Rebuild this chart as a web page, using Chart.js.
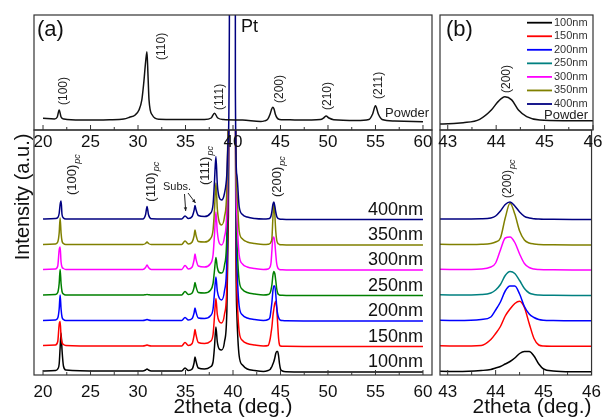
<!DOCTYPE html>
<html><head><meta charset="utf-8">
<script src="https://cdn.jsdelivr.net/npm/chart.js@4.4.0/dist/chart.umd.min.js"></script>
<style>
html,body{margin:0;padding:0;background:#fff;}
#wrap{position:relative;width:608px;height:420px;overflow:hidden;background:#fff;}
canvas{position:absolute;left:0;top:0;}
</style></head><body>
<div id="wrap">
<canvas id="cAb" width="608" height="420"></canvas>
<canvas id="cBb" width="608" height="420"></canvas>
<canvas id="cAt" width="608" height="420"></canvas>
<canvas id="cBt" width="608" height="420"></canvas>
</div>
<script>
// ---------------- DATA ----------------
const seriesLabels = ['100nm','150nm','200nm','250nm','300nm','350nm','400nm'];
// vertical stacking offsets of the film patterns (a.u.)
const offsets = [3, 28.5, 54, 79.5, 105, 130, 155.5];

// common 2theta grid of the film patterns (deg.)
const theta = [20, 21.3, 21.55, 21.7, 21.8, 21.9, 22.0, 22.15, 22.4, 26,
 30.5, 30.8, 30.95, 31.1, 31.4, 34.6, 34.95, 35.3, 35.7, 35.9,
 36.0, 36.1, 36.35, 37.0, 37.6, 37.9, 38.05, 38.2, 38.35, 38.55,
 38.8, 39.1, 39.35, 39.5, 39.62, 39.7, 40.15, 40.25, 40.4, 40.65,
 41.0, 41.5, 42.3, 43.2, 43.7, 43.9, 44.0, 44.1, 44.2, 44.3,
 44.4, 44.5, 44.6, 44.7, 44.8, 44.9, 45.0, 45.2, 45.6, 50,
 60];

const i100 = [1, 1.5, 3, 8, 24, 39, 22, 6, 2, 1,
 1, 2, 3, 2, 1, 1, 4, 1.5, 3, 9,
 15, 11, 4, 3, 5, 10, 25, 45, 30, 23,
 22, 30, 60, 150, 400, 3000, 3000, 300, 60, 16,
 7, 3, 1.5, 0.5, 1.5, 2.5, 4, 5.5, 8, 10.5,
 14, 18.5, 20.5, 20.5, 16, 8, 3, 1, 0.3, 0,
 0];
const i150 = [1, 1.5, 5, 22, 25, 10, 4, 2, 1, 0.5,
 0.5, 1, 1.5, 1, 0.5, 0.5, 4, 1, 3, 11,
 17, 12, 4, 3, 5, 12, 30, 48, 32, 25,
 23.5, 32, 60, 150, 400, 3000, 3000, 300, 60, 15,
 6, 3, 1.5, 0.5, 1, 7, 13, 20, 30.5, 37.5,
 43, 45.3, 39, 23, 8, 1.5, 0.5, 0.3, 0.2, 0,
 0];
const i200 = [0.5, 1, 3, 12, 26, 12, 4, 1.5, 0.5, 0.5,
 0.5, 1, 1.5, 1, 0.5, 0.5, 3.5, 1, 2.5, 8,
 13, 9, 3, 2.5, 5, 12, 28, 44, 30, 23,
 21, 30, 60, 150, 400, 3000, 3000, 300, 60, 15,
 6, 3, 1.5, 0.5, 1.5, 4, 11, 19, 30, 35,
 35, 27, 14.5, 7, 3.5, 1.5, 0.8, 0.5, 0.2, 0,
 0];
const i250 = [0.5, 1, 3, 12, 26, 12, 4, 1.5, 0.5, 0.5,
 0.5, 0.8, 1, 0.8, 0.5, 0.5, 4, 1, 2.5, 8,
 13, 9, 3, 2.5, 5, 12, 25, 38, 28, 23,
 22.5, 30, 60, 150, 400, 3000, 3000, 300, 60, 15,
 6, 3, 1.5, 0.5, 1, 2.5, 5.5, 11, 20, 24,
 22, 15, 7, 2.5, 1, 0.5, 0.3, 0.2, 0.1, 0,
 0];
const i300 = [0.5, 1, 4, 20, 23, 8, 3, 1.5, 0.5, 0.5,
 0.5, 2.5, 5, 2.5, 0.5, 0.5, 4.5, 1, 3, 10,
 16, 11, 4, 3, 6, 15, 35, 58, 38, 27,
 25, 33, 60, 150, 400, 3000, 3000, 250, 55, 15,
 6, 3, 1.5, 0.5, 1, 3, 7, 20, 32, 33,
 27.5, 16, 6.5, 2.5, 1, 0.5, 0.3, 0.2, 0.1, 0,
 0];
const i350 = [0.5, 1, 3, 12, 27, 12, 4, 1.5, 0.5, 0.5,
 0.5, 1.5, 3, 1.5, 0.5, 0.5, 4, 1, 3, 9,
 15, 10, 3.5, 3, 6, 15, 35, 62, 36, 23,
 20, 28, 55, 130, 350, 3000, 3000, 200, 55, 14,
 6, 3, 1.5, 0.5, 0.8, 1.5, 3, 7, 27, 41.7,
 31, 14, 5, 2, 1, 0.5, 0.3, 0.2, 0.1, 0,
 0];
const i400 = [0.5, 1, 2, 6, 15, 18.5, 5, 1.5, 0.5, 0.5,
 0.5, 5, 13, 5, 0.8, 0.5, 3.5, 1, 3, 9,
 14, 10, 4, 3, 6, 15, 38, 63, 35, 22,
 19.5, 26, 45, 80, 200, 3000, 3000, 130, 45, 13,
 5, 2.5, 1, 0.5, 0.7, 1.5, 3.5, 8.5, 15, 17.5,
 13.5, 7.5, 3.2, 1.5, 0.8, 0.5, 0.3, 0.2, 0.1, 0,
 0];
const filmSeries = [i100, i150, i200, i250, i300, i350, i400];

// powder pattern
const powderTheta = [20, 21.2, 21.5, 21.7, 21.9, 22.2, 24, 27, 28.5, 29.1,
 29.7, 30.1, 30.4, 30.6, 30.8, 30.94, 31.05, 31.16, 31.5, 32.2,
 34, 37, 37.7, 38.05, 38.4, 39, 41, 42.9, 43.32, 43.66,
 43.9, 44.04, 44.18, 44.32, 44.46, 44.63, 44.9, 45.38, 46, 47,
 49.2, 49.6, 49.8, 50.1, 50.6, 53, 54.3, 54.7, 55.0, 55.3,
 55.7, 57, 60];
const powderI = [11.7, 11, 13, 20, 13, 11, 10, 10.3, 11, 12.7,
 15, 20, 30, 46.7, 68, 78.3, 55, 30, 15, 10.7,
 10.5, 10.5, 12, 16.7, 12, 10.5, 10, 8.5, 9.1, 10.9,
 15.7, 20.1, 22.7, 21, 15.7, 12.3, 10.5, 10.2, 10.2, 10,
 10.5, 12.5, 14, 12, 10.3, 9.5, 10.5, 16, 24.3, 16,
 10.5, 9, 8.3];
const powderHkl = ['(100)','(110)','(111)','(200)','(210)','(211)'];
const filmHkl = ['(100)','(110)','(111)','(200)'];

// axes
const xTicksA = [20, 25, 30, 35, 40, 45, 50, 55, 60];
const xMinorA = [22.5, 27.5, 32.5, 37.5, 42.5, 47.5, 52.5, 57.5];
const xTicksB = [43, 44, 45, 46];
const xMinorB = [43.5, 44.5, 45.5];

// ---------------- STYLE ----------------
const FF = '"Liberation Sans", Arial, Helvetica, sans-serif';
Chart.defaults.font.family = FF;
Chart.defaults.color = '#111';
const colorsA = ['#000000','#ff0000','#0000ff','#008000','#ff00ff','#808000','#000080'];
const colorsB = ['#000000','#ff0000','#0000ff','#008080','#ff00ff','#808000','#000080'];

function filmDatasets(colors, yID) {
  return filmSeries.map((vals, s) => ({
    label: seriesLabels[s],
    data: theta.map((t, k) => ({x: t, y: vals[k] + offsets[s]})),
    borderColor: colors[s], borderWidth: 1.5, pointRadius: 0, fill: false,
    cubicInterpolationMode: 'monotone', order: filmSeries.length - s,
    yAxisID: yID || 'y'
  }));
}

function xScale(min, max, ticks, pad, height, title, align) {
  return {
    type: 'linear', min, max, position: 'bottom',
    grid: {display: false, drawTicks: false}, border: {display: false},
    afterBuildTicks: s => { s.ticks = ticks.map(v => ({value: v})); },
    afterFit: s => { s.height = height; },
    ticks: {font: {size: 17}, padding: pad, autoSkip: false, maxRotation: 0, minRotation: 0,
            color: '#111', callback: v => String(v)},
    title: title ? {display: true, text: title, font: {size: 21}, color: '#111',
                    padding: {top: 0, bottom: 0}, align: align || 'center'} : {display: false}
  };
}

function framePlugin(major, minor) {
  return {
    id: 'frame',
    afterDatasetsDraw(chart) {
      const {ctx, chartArea: a} = chart; const x = chart.scales.x;
      ctx.save();
      ctx.strokeStyle = '#333'; ctx.lineWidth = 1.2;
      ctx.strokeRect(a.left, a.top, a.right - a.left, a.bottom - a.top);
      ctx.lineWidth = 1;
      ctx.beginPath();
      major.forEach(v => { const p = x.getPixelForValue(v); ctx.moveTo(p, a.bottom); ctx.lineTo(p, a.bottom - 5); });
      minor.forEach(v => { const p = x.getPixelForValue(v); ctx.moveTo(p, a.bottom); ctx.lineTo(p, a.bottom - 3); });
      ctx.stroke();
      ctx.restore();
    }
  };
}

function vtext(ctx, text, x, yBottom, size, sub) {
  ctx.save();
  ctx.translate(x, yBottom); ctx.rotate(-Math.PI / 2);
  ctx.font = size + 'px ' + FF; ctx.textAlign = 'left'; ctx.textBaseline = 'middle';
  ctx.fillStyle = '#222';
  ctx.fillText(text, 0, 0);
  if (sub) {
    const w = ctx.measureText(text).width;
    ctx.font = 'italic ' + Math.round(size * 0.72) + 'px ' + FF;
    ctx.fillText(sub, w + 1, size * 0.38);
  }
  ctx.restore();
}
function htext(ctx, text, x, y, size, align, color) {
  ctx.save();
  ctx.font = size + 'px ' + FF; ctx.textAlign = align || 'left'; ctx.textBaseline = 'middle';
  ctx.fillStyle = color || '#111';
  ctx.fillText(text, x, y);
  ctx.restore();
}
function arrow(ctx, x1, y1, x2, y2) {
  const ang = Math.atan2(y2 - y1, x2 - x1), h = 4;
  ctx.save(); ctx.strokeStyle = '#222'; ctx.fillStyle = '#222'; ctx.lineWidth = 1;
  ctx.beginPath(); ctx.moveTo(x1, y1); ctx.lineTo(x2, y2); ctx.stroke();
  ctx.beginPath(); ctx.moveTo(x2, y2);
  ctx.lineTo(x2 - h * Math.cos(ang - 0.45), y2 - h * Math.sin(ang - 0.45));
  ctx.lineTo(x2 - h * Math.cos(ang + 0.45), y2 - h * Math.sin(ang + 0.45));
  ctx.closePath(); ctx.fill();
  ctx.restore();
}

const baseOpts = {responsive: false, animation: false, devicePixelRatio: 1,
  plugins: {legend: {display: false}, tooltip: {enabled: false}},
  elements: {point: {radius: 0}}};

// ---------------- (a) lower ----------------
new Chart(document.getElementById('cAb'), {
  type: 'line',
  data: {datasets: filmDatasets(colorsA)},
  options: Object.assign({}, baseOpts, {
    layout: {padding: {left: 34, right: 176, top: 130, bottom: 0}},
    scales: {
      x: xScale(19.05, 60.95, xTicksA, 7, 45, '2theta (deg.)'),
      y: {display: false, min: 0, max: 245}
    }
  }),
  plugins: [framePlugin(xTicksA, xMinorA), {
    id: 'notesAb',
    afterDraw(chart) {
      const ctx = chart.ctx, x = chart.scales.x, y = chart.scales.y;
      // sample labels
      seriesLabels.forEach((lab, s) => htext(ctx, lab, 423, y.getPixelForValue(offsets[s]) - 9.5, 18, 'right', '#111'));
      // peak labels
      const pos = [[72.5, 195], [151.7, 201.7], [205.5, 185], [277.8, 197]];
      filmHkl.forEach((t, k) => vtext(ctx, t, pos[k][0], pos[k][1], 13, 'pc'));
      htext(ctx, 'Subs.', 163, 187, 11, 'left', '#222');
      arrow(ctx, 184.5, 194, 185.7, 211);
      arrow(ctx, 188, 193, 195.5, 203);
      // y title
      ctx.save(); ctx.translate(23, 197); ctx.rotate(-Math.PI / 2);
      ctx.font = '20px ' + FF; ctx.textAlign = 'center'; ctx.textBaseline = 'middle'; ctx.fillStyle = '#111';
      ctx.fillText('Intensity (a.u.)', 0, 0); ctx.restore();
    }
  }]
});

// ---------------- (b) lower ----------------
new Chart(document.getElementById('cBb'), {
  type: 'line',
  data: {datasets: filmDatasets(colorsB)},
  options: Object.assign({}, baseOpts, {
    layout: {padding: {left: 440, right: 15, top: 130, bottom: 0}},
    scales: {
      x: xScale(42.84, 46, xTicksB, 7, 45, '2theta (deg.)', 'end'),
      y: {display: false, min: 0, max: 245}
    }
  }),
  plugins: [framePlugin(xTicksB, xMinorB), {
    id: 'notesBb',
    afterDraw(chart) { vtext(chart.ctx, '(200)', 508, 198, 12, 'pc'); }
  }]
});

// ---------------- (a) top: powder ----------------
const dsPt = filmDatasets(colorsA, 'y2')[6];
new Chart(document.getElementById('cAt'), {
  type: 'line',
  data: {datasets: [
    {label: 'Powder', data: powderTheta.map((t, k) => ({x: t, y: powderI[k]})),
     borderColor: '#111', borderWidth: 1.5, pointRadius: 0, fill: false, cubicInterpolationMode: 'monotone'},
    dsPt
  ]},
  options: Object.assign({}, baseOpts, {
    layout: {padding: {left: 34, right: 176, top: 15, bottom: 266}},
    scales: {
      x: xScale(19.05, 60.95, xTicksA, 2, 24),
      y: {display: false, min: 0, max: 115},
      y2: {display: false, min: 245, max: 360}
    }
  }),
  plugins: [framePlugin(xTicksA, xMinorA), {
    id: 'notesAt',
    afterDraw(chart) {
      const ctx = chart.ctx;
      htext(ctx, '(a)', 37, 30, 22, 'left', '#111');
      htext(ctx, 'Pt', 241, 27, 18, 'left', '#111');
      const pos = [[63.3, 105], [161.7, 60], [219.3, 110], [279.3, 103], [328, 110], [378.3, 99]];
      powderHkl.forEach((t, k) => vtext(ctx, t, pos[k][0], pos[k][1], 12));
      htext(ctx, 'Powder', 385, 113, 13, 'left', '#222');
    }
  }]
});

// ---------------- (b) top: powder ----------------
new Chart(document.getElementById('cBt'), {
  type: 'line',
  data: {datasets: [
    {label: 'Powder', data: powderTheta.map((t, k) => ({x: t, y: powderI[k]})),
     borderColor: '#111', borderWidth: 1.5, pointRadius: 0, fill: false, cubicInterpolationMode: 'monotone'}
  ]},
  options: Object.assign({}, baseOpts, {
    layout: {padding: {left: 440, right: 15, top: 15, bottom: 266}},
    scales: {
      x: xScale(42.84, 46, xTicksB, 2, 24),
      y: {display: false, min: 5.33, max: 65.2}
    }
  }),
  plugins: [framePlugin(xTicksB, xMinorB), {
    id: 'notesBt',
    afterDraw(chart) {
      const ctx = chart.ctx;
      htext(ctx, '(b)', 446, 30, 22, 'left', '#111');
      vtext(ctx, '(200)', 507, 93, 12);
      htext(ctx, 'Powder', 544, 115, 13, 'left', '#222');
      seriesLabels.forEach((lab, s) => {
        const yy = 22.7 + s * 13.55;
        ctx.save(); ctx.strokeStyle = colorsB[s]; ctx.lineWidth = 1.8;
        ctx.beginPath(); ctx.moveTo(527, yy); ctx.lineTo(552, yy); ctx.stroke(); ctx.restore();
        htext(ctx, lab, 554, yy, 11, 'left', '#333');
      });
    }
  }]
});
</script>
</body></html>
